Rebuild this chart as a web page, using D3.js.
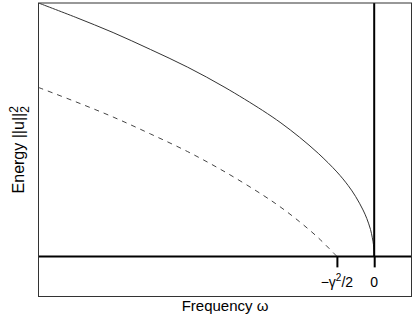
<!DOCTYPE html>
<html>
<head>
<meta charset="utf-8">
<script src="https://cdn.jsdelivr.net/npm/d3@7"></script>
<style>
  body { margin: 0; background: #fff; }
  text { font-family: "Liberation Sans", Arial, sans-serif; fill: #000; }
</style>
</head>
<body>
<svg id="chart" width="415" height="321"></svg>
<script>
// values (frequency in units of gamma^2/2)
const omega = [-9, -8, -7, -6, -5, -4, -3, -2.5, -2, -1.5, -1, -0.7, -0.5, -0.3, -0.2, -0.1, -0.05, -0.02, 0];
const energy = [3.00, 2.83, 2.65, 2.45, 2.24, 2.00, 1.73, 1.58, 1.41, 1.22, 1.00, 0.84, 0.71, 0.55, 0.45, 0.32, 0.22, 0.14, 0];
const omegaDashed = [-9, -8, -7, -6, -5, -4, -3, -2.5, -2, -1.5, -1];
const energyDashed = [2.00, 1.83, 1.65, 1.45, 1.24, 1.00, 0.73, 0.58, 0.41, 0.22, 0];
const tickValues = [-1, 0];

const svg = d3.select("#chart");
const box = { left: 38.5, right: 411.5, top: 3, bottom: 296.5 };

const x = d3.scaleLinear().domain([-9, 1]).range([box.left, box.right]);
const y = d3.scaleLinear().domain([-0.475, 3]).range([box.bottom, box.top]);

svg.append("clipPath").attr("id", "plotClip")
    .append("rect")
    .attr("x", box.left).attr("y", box.top)
    .attr("width", box.right - box.left).attr("height", box.bottom - box.top);

const plot = svg.append("g").attr("clip-path", "url(#plotClip)");

const line = d3.line()
    .x(d => x(d[0]))
    .y(d => y(d[1]))
    .curve(d3.curveCatmullRom);

plot.append("path")
    .attr("d", line(d3.zip(omega, energy)))
    .attr("fill", "none")
    .attr("stroke", "#333")
    .attr("stroke-width", 1);

plot.append("path")
    .attr("d", line(d3.zip(omegaDashed, energyDashed)))
    .attr("fill", "none")
    .attr("stroke", "#444")
    .attr("stroke-width", 1)
    .attr("stroke-dasharray", "5,5");

// thick reference lines: E = 0 across, omega = 0 from top down to E = 0
plot.append("line")
    .attr("x1", box.left).attr("x2", box.right)
    .attr("y1", y(0)).attr("y2", y(0))
    .attr("stroke", "#000").attr("stroke-width", 2);

plot.append("line")
    .attr("x1", x(0)).attr("x2", x(0))
    .attr("y1", box.top).attr("y2", y(0))
    .attr("stroke", "#000").attr("stroke-width", 2);

// axis drawn at E = 0
const axis = svg.append("g")
    .attr("transform", `translate(0,${y(0)})`)
    .call(d3.axisBottom(x).tickValues(tickValues).tickSize(11).tickFormat(""));
axis.select(".domain").remove();
axis.selectAll(".tick line").attr("stroke", "#000").attr("stroke-width", 2);

svg.append("text")
    .attr("x", x(0)).attr("y", 287)
    .attr("text-anchor", "middle")
    .style("font-size", "14px")
    .text("0");

const labG = svg.append("text")
    .attr("x", x(-1)).attr("y", 287)
    .attr("text-anchor", "middle")
    .style("font-size", "14px");
labG.append("tspan").text("\u2212\u03b3");
labG.append("tspan").attr("dy", -6).style("font-size", "10px").text("2");
labG.append("tspan").attr("dy", 6).text("/2");

// plot box
svg.append("rect")
    .attr("x", box.left).attr("y", box.top)
    .attr("width", box.right - box.left).attr("height", box.bottom - box.top)
    .attr("fill", "none")
    .attr("stroke", "#333")
    .attr("stroke-width", 1);

// axis titles
svg.append("text")
    .attr("x", (box.left + box.right) / 2).attr("y", 311)
    .attr("text-anchor", "middle")
    .style("font-size", "15px")
    .text("Frequency \u03c9");

const yLab = svg.append("text")
    .attr("transform", `translate(24,${(box.top + box.bottom) / 2}) rotate(-90)`)
    .attr("text-anchor", "middle")
    .style("font-size", "16px");
yLab.append("tspan").text("Energy ||u||");
yLab.append("tspan").attr("dy", -6).style("font-size", "12px").text("2");
yLab.append("tspan").attr("dx", -6.7).attr("dy", 11).style("font-size", "12px").text("2");
</script>
</body>
</html>
